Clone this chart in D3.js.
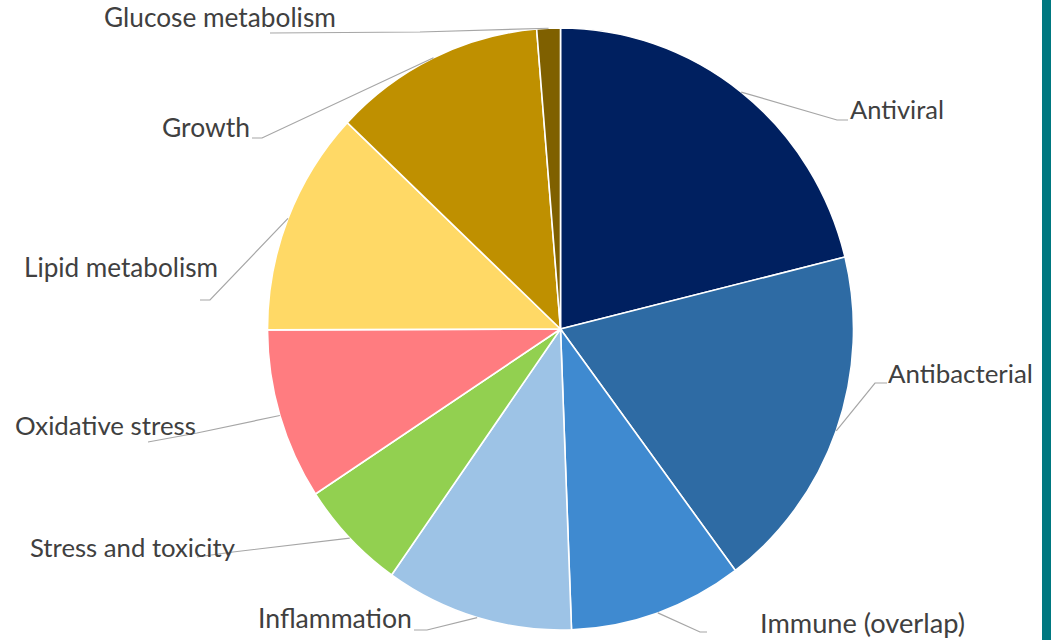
<!DOCTYPE html>
<html><head><meta charset="utf-8">
<script src="https://cdn.jsdelivr.net/npm/d3@7"></script>
<style>html,body{margin:0;padding:0;background:#fff;overflow:hidden}</style>
</head><body>
<svg id="c" width="1051" height="640"></svg>
<script>
// Data
const categories = ["Antiviral","Antibacterial","Immune (overlap)","Inflammation","Stress and toxicity","Oxidative stress","Lipid metabolism","Growth","Glucose metabolism"];
const values = [21.2, 18.7, 9.6, 10.4, 6.0, 9.2, 12.1, 11.7, 1.3];
const colors = ["#002060","#2E6BA4","#3F8AD0","#9DC3E6","#92D050","#FF7C80","#FFD966","#BF9000","#7F6000"];
// Label layout: text left x, baseline y, target width, leader elbow and end points
const labelLayout = [
  {x:850, y:119, w:94,  elbow:[837,120], end:[848,120]},
  {x:888, y:383, w:145, elbow:[875,383], end:[887,383]},
  {x:760, y:633, w:205, elbow:[700,632], end:[707,632]},
  {x:258, y:628, w:154, elbow:[427,630], end:[414,630]},
  {x:30,  y:557, w:205, elbow:[233,552], end:[197,557]},
  {x:15,  y:435, w:181, elbow:[197,433], end:[148,442]},
  {x:24,  y:277, w:194, elbow:[210,300], end:[200,300]},
  {x:162, y:137, w:88,  elbow:[262,138], end:[252,138]},
  {x:104, y:27,  w:232, elbow:[420,32],  end:[270,33]}
];

const svg = d3.select("#c");
svg.append("rect").attr("x",1042).attr("y",0).attr("width",9).attr("height",640).attr("fill","#007880");

const cx = 560.5, cy = 329, rx = 293, ry = 301;
const pie = d3.pie().sort(null).value(d=>d.v);
const data = categories.map((c,i)=>({c, v:values[i], col:colors[i], L:labelLayout[i]}));
const arcs = pie(data);
const arc = d3.arc().innerRadius(0).outerRadius(rx);

const g = svg.append("g").attr("transform",`translate(${cx},${cy}) scale(1,${ry/rx})`);
g.selectAll("path").data(arcs).join("path")
  .attr("d",arc).attr("fill",d=>d.data.col)
  .attr("stroke","#fff").attr("stroke-width",1.6).attr("stroke-linejoin","round");

// leader lines
arcs.forEach(a=>{
  const m = (a.startAngle+a.endAngle)/2;
  const px = cx + rx*Math.sin(m), py = cy - ry*Math.cos(m);
  const L = a.data.L;
  svg.append("polyline")
    .attr("points",[[px,py],L.elbow,L.end].map(p=>p.join(",")).join(" "))
    .attr("fill","none").attr("stroke","#A6A6A6").attr("stroke-width",1.2);
});

// labels
arcs.forEach(a=>{
  const L = a.data.L;
  const t = svg.append("text").attr("x",L.x).attr("y",L.y)
    .attr("font-family","Lato, 'Open Sans', sans-serif").attr("font-size",22)
    .attr("fill","#404040").text(a.data.c);
  const w = t.node().getComputedTextLength();
  t.attr("font-size", 22*L.w/w);
});
</script>
</body></html>
